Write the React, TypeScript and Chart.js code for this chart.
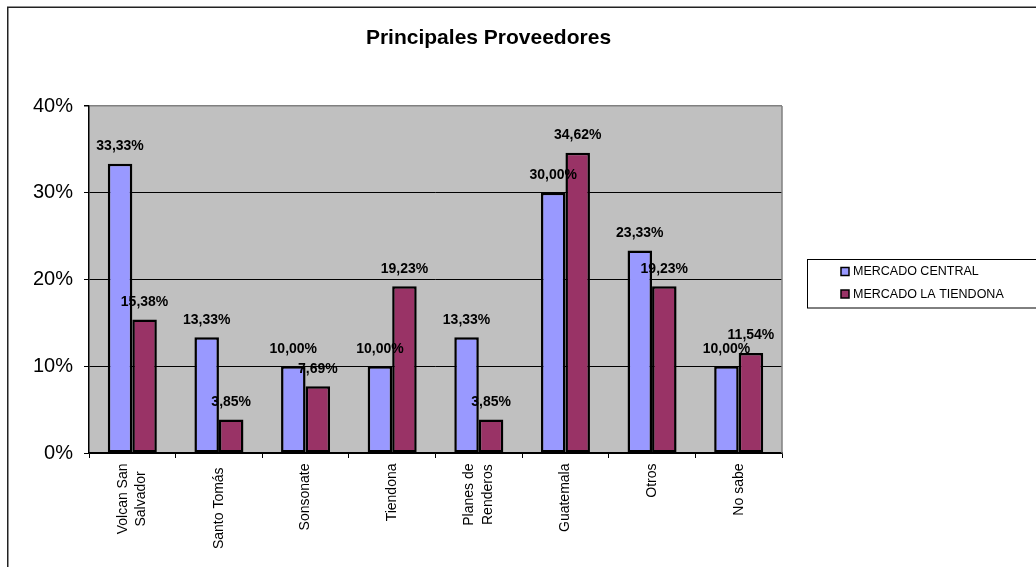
import React, { useEffect, useRef } from "react";
import { Chart, registerables } from "chart.js";

Chart.register(...registerables);

const TITLE = "Principales Proveedores";
const CATEGORIES: (string | string[])[] = [
  ["Volcan San", "Salvador"],
  "Santo Tomás ",
  "Sonsonate",
  "Tiendona",
  ["Planes de", "Renderos"],
  "Guatemala",
  "Otros",
  "No sabe",
];
const SERIES_NAMES = ["MERCADO CENTRAL", "MERCADO LA TIENDONA"];
const MERCADO_CENTRAL = [33.33, 13.33, 10.0, 10.0, 13.33, 30.0, 23.33, 10.0];
const MERCADO_LA_TIENDONA = [15.38, 3.85, 7.69, 19.23, 3.85, 34.62, 19.23, 11.54];
const SERIES_COLORS = ["#9999FF", "#993366"];
const Y_MIN = 0;
const Y_MAX = 40;
const Y_STEP = 10;

const FONT = "Arial, 'Liberation Sans', sans-serif";

const fmt = (v: number) => v.toFixed(2).replace(".", ",") + "%";

const decorPlugin = {
  id: "decor",
  beforeDraw(chart: any) {
    const { ctx, chartArea: a } = chart;
    ctx.save();
    ctx.fillStyle = "#ffffff";
    ctx.fillRect(0, 0, chart.width, chart.height);
    ctx.fillStyle = "#C0C0C0";
    ctx.fillRect(a.left, a.top, a.right - a.left, a.bottom - a.top);
    ctx.restore();
  },
  beforeDatasetsDraw(chart: any) {
    const { ctx, chartArea: a } = chart;
    ctx.save();
    ctx.strokeStyle = "#808080";
    ctx.lineWidth = 1.5;
    ctx.beginPath();
    ctx.moveTo(a.right, a.top);
    ctx.lineTo(a.right, a.bottom);
    ctx.stroke();
    ctx.restore();
  },
  afterDatasetsDraw(chart: any) {
    const { ctx } = chart;
    ctx.save();
    ctx.fillStyle = "#000";
    ctx.font = `bold 14px ${FONT}`;
    ctx.textAlign = "center";
    ctx.textBaseline = "middle";
    chart.data.datasets.forEach((ds: any, di: number) => {
      const meta = chart.getDatasetMeta(di);
      meta.data.forEach((el: any, i: number) => {
        ctx.fillText(fmt(ds.data[i]), el.x, el.y - 17.5);
      });
    });
    ctx.restore();
  },
  afterDraw(chart: any) {
    const { ctx, chartArea: a } = chart;
    const xScale = chart.scales.x;
    ctx.save();
    // outer frame
    ctx.strokeStyle = "#222";
    ctx.lineWidth = 1.5;
    ctx.beginPath();
    ctx.moveTo(7.75, chart.height + 2);
    ctx.lineTo(7.75, 7.25);
    ctx.lineTo(chart.width + 2, 7.25);
    ctx.stroke();

    // title
    ctx.fillStyle = "#000";
    ctx.font = `bold 21px ${FONT}`;
    ctx.textAlign = "center";
    ctx.textBaseline = "alphabetic";
    ctx.fillText(TITLE, 488.5, 43.5);

    // x category labels (rotated)
    ctx.font = `14px ${FONT}`;
    const top = a.bottom + 10.5;
    const lineGap = 18.5;
    CATEGORIES.forEach((lab, i) => {
      const lines = Array.isArray(lab) ? lab : [lab];
      const widths = lines.map((l) => ctx.measureText(l).width);
      const blockW = Math.max(...widths);
      const cx = xScale.getPixelForValue(i);
      lines.forEach((l, li) => {
        const lx = cx + (li - (lines.length - 1) / 2) * lineGap;
        ctx.save();
        ctx.translate(lx, top + blockW / 2);
        ctx.rotate(-Math.PI / 2);
        ctx.textAlign = "center";
        ctx.textBaseline = "middle";
        ctx.fillText(l, 0, 0);
        ctx.restore();
      });
    });

    // legend
    ctx.strokeStyle = "#000";
    ctx.lineWidth = 1;
    ctx.strokeRect(807.5, 259.5, 240, 48.5);
    ctx.font = `12.5px ${FONT}`;
    ctx.textAlign = "left";
    ctx.textBaseline = "middle";
    const rowsY = [271.5, 294];
    SERIES_NAMES.forEach((name, i) => {
      const y = rowsY[i];
      ctx.fillStyle = SERIES_COLORS[i];
      ctx.fillRect(841, y - 4, 8, 8);
      ctx.strokeStyle = "#000";
      ctx.lineWidth = 1.5;
      ctx.strokeRect(841, y - 4, 8, 8);
      ctx.fillStyle = "#000";
      ctx.fillText(name, 853, y + 0.5);
    });
    ctx.restore();
  },
};

export default function App() {
  const ref = useRef<HTMLCanvasElement | null>(null);
  useEffect(() => {
    document.body.style.margin = "0";
    const canvas = ref.current!;
    const chart = new Chart(canvas, {
      type: "bar",
      data: {
        labels: CATEGORIES.map((c) => (Array.isArray(c) ? c.join(" ") : c.trim())),
        datasets: [
          {
            label: SERIES_NAMES[0],
            data: MERCADO_CENTRAL,
            backgroundColor: SERIES_COLORS[0],
            borderColor: "#000",
            borderWidth: 2.5,
            borderSkipped: false,
            categoryPercentage: 0.566,
            barPercentage: 1,
          },
          {
            label: SERIES_NAMES[1],
            data: MERCADO_LA_TIENDONA,
            backgroundColor: SERIES_COLORS[1],
            borderColor: "#000",
            borderWidth: 2.5,
            borderSkipped: false,
            categoryPercentage: 0.566,
            barPercentage: 1,
          },
        ],
      },
      options: {
        responsive: false,
        animation: false,
        devicePixelRatio: 1,
        layout: { padding: { left: 0, top: 106, right: 254, bottom: 0 } },
        plugins: {
          legend: { display: false },
          title: { display: false },
          tooltip: { enabled: false },
        },
        scales: {
          x: {
            grid: {
              offset: true,
              drawOnChartArea: false,
              drawTicks: true,
              tickLength: 5,
              color: "#000",
              tickColor: "#000",
            },
            border: { color: "#000", width: 1.5 },
            ticks: { display: false },
            afterFit: (s: any) => {
              s.height = 114;
            },
          },
          y: {
            min: Y_MIN,
            max: Y_MAX,
            ticks: {
              stepSize: Y_STEP,
              callback: (v: any) => `${v}%`,
              color: "#000",
              font: { family: FONT, size: 20 },
              padding: 11,
            },
            grid: {
              color: (c: any) => (c.tick && c.tick.value === Y_MAX ? "#808080" : "#000"),
              tickColor: "#000",
              tickLength: 5,
              lineWidth: (c: any) => (c.tick && c.tick.value === Y_MAX ? 1.5 : 1),
            },
            border: { color: "#000", width: 1.5 },
            afterFit: (s: any) => {
              s.width = 89;
            },
          },
        },
      },
      plugins: [decorPlugin],
    });
    return () => chart.destroy();
  }, []);
  return <canvas ref={ref} width={1036} height={567} style={{ display: "block" }} />;
}
